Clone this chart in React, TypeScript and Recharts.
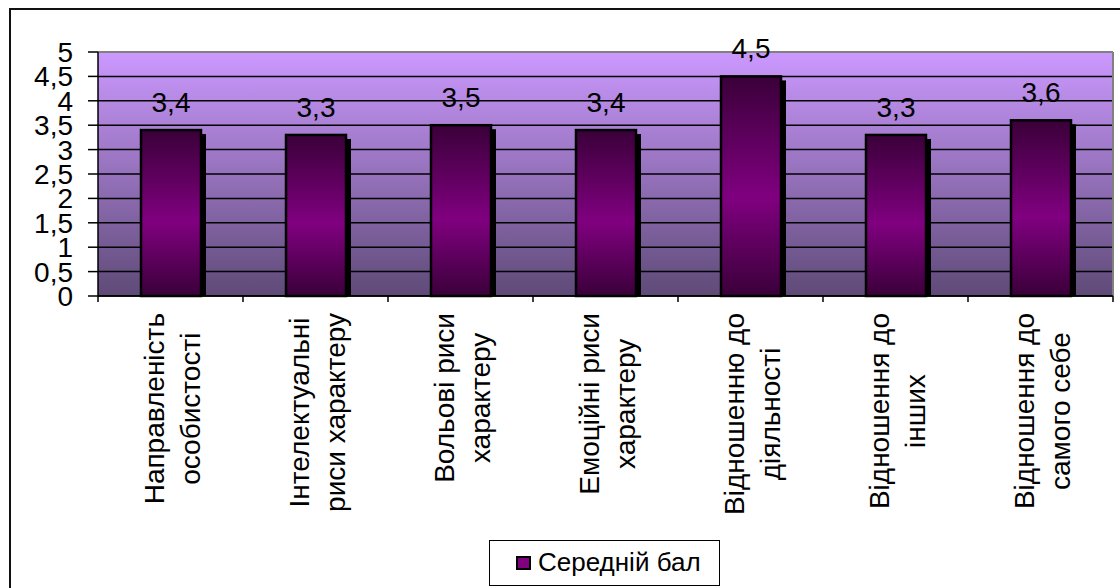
import React from 'react';
import { BarChart, Bar, XAxis, YAxis, CartesianGrid, ReferenceLine, LabelList } from 'recharts';

const categories = [
  'Направленість\nособистості',
  'Інтелектуальні\nриси характеру',
  'Вольові риси\nхарактеру',
  'Емоційні риси\nхарактеру',
  'Відношенню до\nдіяльності',
  'Відношення до\nінших',
  'Відношення до\nсамого себе',
];
const averageScores = [3.4, 3.3, 3.5, 3.4, 4.5, 3.3, 3.6];
const yTicks = [0, 0.5, 1, 1.5, 2, 2.5, 3, 3.5, 4, 4.5, 5];
const seriesName = 'Середній бал';

const data = categories.map((name, i) => ({ name, value: averageScores[i] }));

const FONT = '"Liberation Sans", Arial, sans-serif';
const TEXT_SIZE = 28;
const fmt = (v: any) => String(v).replace('.', ',');

let measureCtx: CanvasRenderingContext2D | null = null;
const measure = (text: string, size: number) => {
  if (!measureCtx) measureCtx = document.createElement('canvas').getContext('2d');
  if (!measureCtx) return text.length * size * 0.5;
  measureCtx.font = `${size}px ${FONT}`;
  return measureCtx.measureText(text).width;
};

// category label, rotated, plus tick marks on the category edges
const CategoryTick = (props: any) => {
  const { x, y, payload, width, visibleTicksCount, index } = props;
  const half = width / visibleTicksCount / 2;
  const lines = String(payload.value).split('\n');
  const longest = Math.max(...lines.map((l) => measure(l, TEXT_SIZE)));
  const cy = y + 17 + longest / 2;
  return (
    <g>
      <line x1={x - half} x2={x - half} y1={y} y2={y + 6} stroke="#000" strokeWidth={1.5} />
      {index === visibleTicksCount - 1 && (
        <line x1={x + half} x2={x + half} y1={y} y2={y + 6} stroke="#000" strokeWidth={1.5} />
      )}
      <text
        transform={`translate(${x}, ${cy}) rotate(-90)`}
        textAnchor="middle"
        fontSize={TEXT_SIZE}
        fontFamily={FONT}
        fill="#000"
      >
        {lines.map((l, i) => (
          <tspan key={i} x={0} y={i === 0 ? -7 : 29}>
            {l}
          </tspan>
        ))}
      </text>
    </g>
  );
};

const ShadowBar = (props: any) => {
  const { x, y, width, height } = props;
  return (
    <g>
      <rect x={x + 5} y={y + 4} width={width} height={Math.max(0, height - 4)} fill="#000" />
      <rect
        x={x}
        y={y}
        width={width}
        height={height}
        fill="url(#barGrad)"
        stroke="#000"
        strokeWidth={2.5}
      />
    </g>
  );
};

export default function App() {
  return (
    <div
      style={{
        position: 'fixed',
        left: 0,
        top: 0,
        width: 1120,
        height: 588,
        overflow: 'hidden',
        background: '#fff',
        fontFamily: FONT,
      }}
    >
      {/* outer chart frame */}
      <div
        style={{
          position: 'absolute',
          left: 9,
          top: 8,
          width: 1200,
          height: 700,
          borderLeft: '2px solid #111',
          borderTop: '2px solid #111',
        }}
      />
      <div style={{ position: 'absolute', left: 0, top: 0 }}>
        <BarChart
          width={1120}
          height={588}
          data={data}
          margin={{ top: 52, right: 7, left: 0, bottom: 0 }}
          barSize={60}
        >
          <defs>
            <linearGradient id="plotBg" x1="0" y1="0" x2="0" y2="1">
              <stop offset="0%" stopColor="#CC99FF" />
              <stop offset="100%" stopColor="#5E4A77" />
            </linearGradient>
            <linearGradient id="barGrad" x1="0" y1="0" x2="0" y2="1">
              <stop offset="0%" stopColor="#3A0039" />
              <stop offset="55%" stopColor="#800080" />
              <stop offset="100%" stopColor="#3A0039" />
            </linearGradient>
          </defs>
          <CartesianGrid
            vertical={false}
            stroke="#000"
            strokeWidth={1.5}
            fill="url(#plotBg)"
            fillOpacity={1}
          />
          <ReferenceLine y={5} stroke="#808080" strokeWidth={2} />
          <ReferenceLine x={categories[categories.length - 1]} position="end" stroke="#808080" strokeWidth={2} />
          <XAxis
            dataKey="name"
            height={292}
            interval={0}
            tickSize={0}
            tickMargin={0}
            tickLine={false}
            axisLine={{ stroke: '#000', strokeWidth: 1.5 }}
            tick={<CategoryTick />}
          />
          <YAxis
            width={98}
            domain={[0, 5]}
            ticks={yTicks}
            interval={0}
            tickSize={10}
            tickMargin={15}
            tickFormatter={fmt}
            axisLine={{ stroke: '#000', strokeWidth: 1.5 }}
            tickLine={{ stroke: '#000', strokeWidth: 1.5 }}
            tick={{ fill: '#000', fontSize: TEXT_SIZE, fontFamily: FONT }}
          />
          <Bar dataKey="value" name={seriesName} shape={<ShadowBar />} isAnimationActive={false}>
            <LabelList
              dataKey="value"
              position="top"
              offset={18}
              formatter={fmt}
              fill="#000"
              fontSize={TEXT_SIZE}
              fontFamily={FONT}
            />
          </Bar>
        </BarChart>
      </div>
      {/* legend */}
      <div
        style={{
          position: 'absolute',
          left: 489,
          top: 540,
          width: 229,
          height: 44,
          border: '1.5px solid #000',
          background: '#fff',
        }}
      >
        <div
          style={{
            position: 'absolute',
            left: 26,
            top: 15,
            width: 11,
            height: 10,
            background: '#800080',
            border: '2px solid #000',
          }}
        />
        <div
          style={{
            position: 'absolute',
            left: 48,
            top: 7,
            fontSize: 26,
            lineHeight: '29px',
            color: '#000',
            whiteSpace: 'nowrap',
          }}
        >
          {seriesName}
        </div>
      </div>
    </div>
  );
}
